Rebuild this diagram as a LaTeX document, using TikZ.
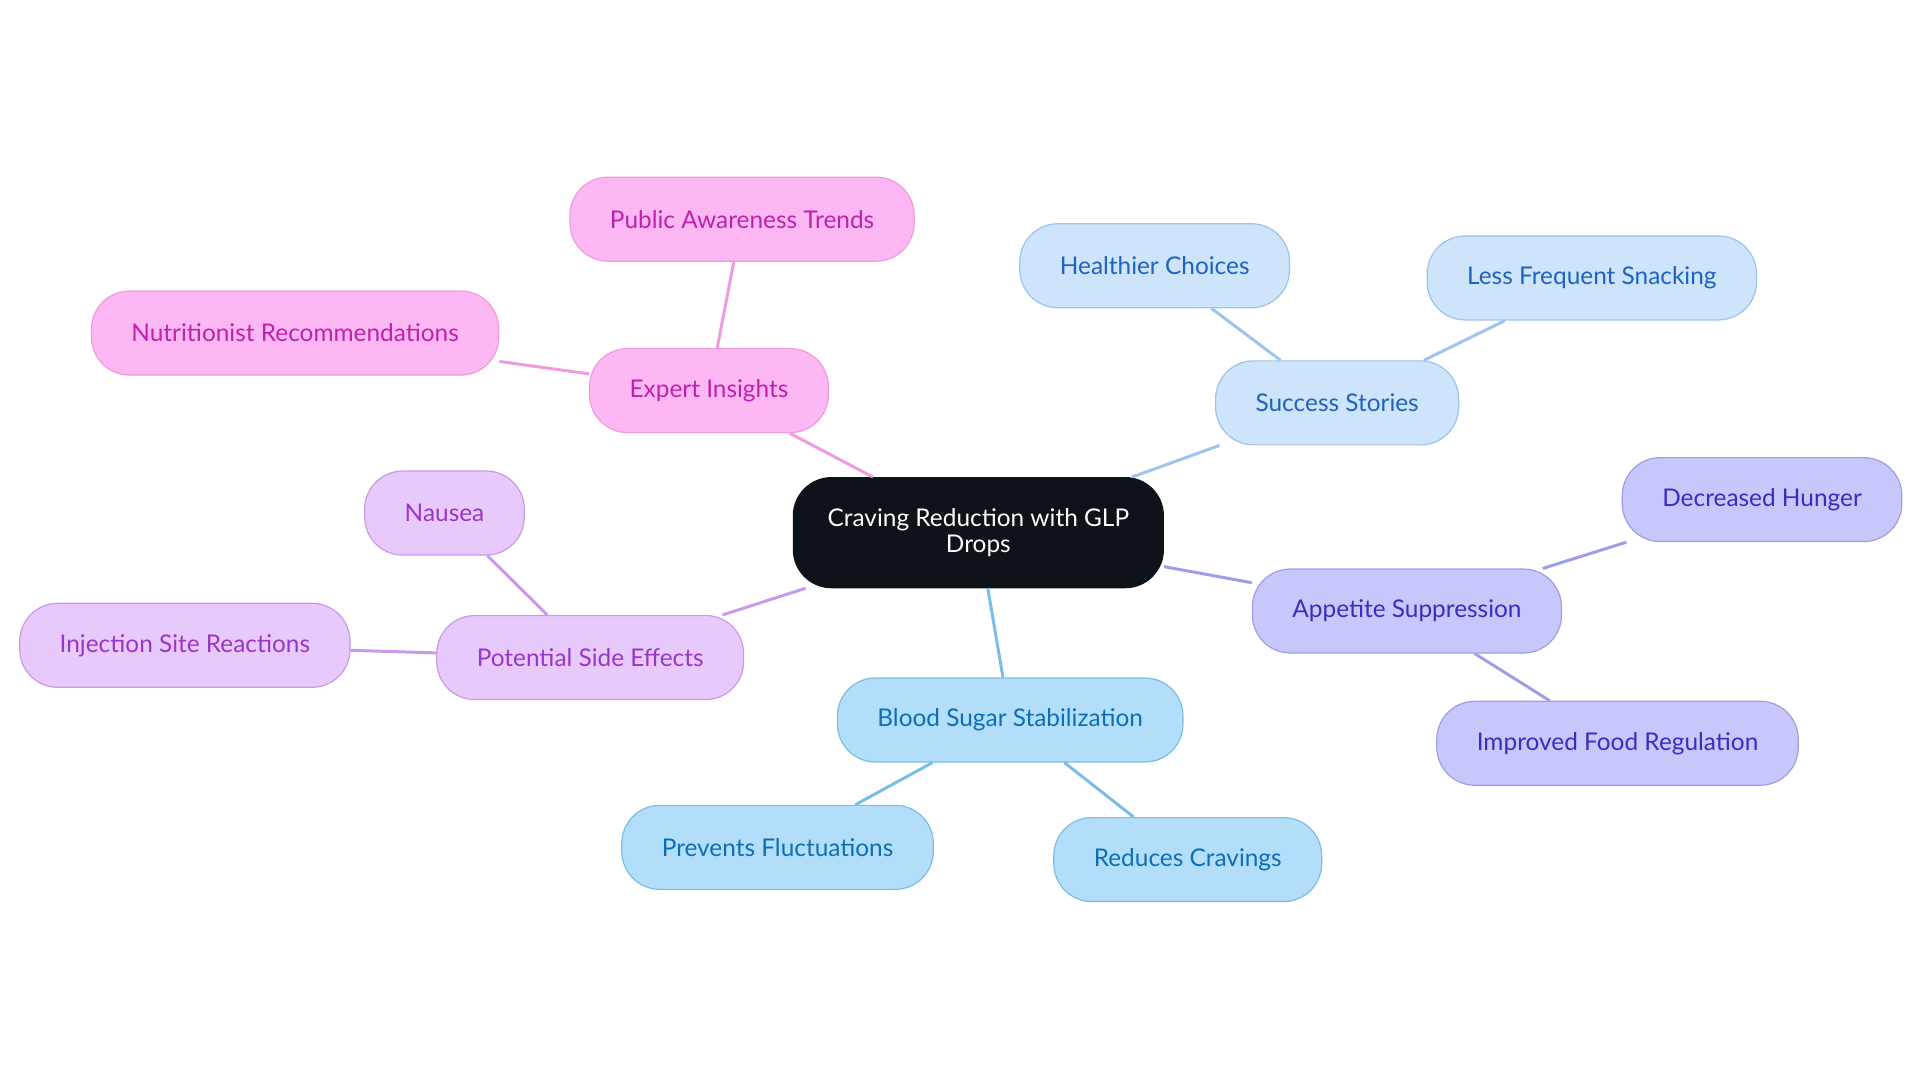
\documentclass[tikz,border=0pt]{standalone}
\usepackage{fontspec}
\setmainfont{Lato}
\usepackage{xcolor}
\usetikzlibrary{positioning}
\definecolor{rootfill}{HTML}{0E1219}
\definecolor{pinkfill}{HTML}{FDB7F3}
\definecolor{pinkline}{HTML}{EE9BDF}
\definecolor{pinktext}{HTML}{C020B0}
\definecolor{bluefill}{HTML}{CDE4FB}
\definecolor{blueline}{HTML}{9EC3EC}
\definecolor{bluetext}{HTML}{1E63C0}
\definecolor{violetfill}{HTML}{C7C7FB}
\definecolor{violetline}{HTML}{9E9EE8}
\definecolor{violettext}{HTML}{3A2CC0}
\definecolor{skyfill}{HTML}{B3DEF9}
\definecolor{skyline}{HTML}{7ABDE8}
\definecolor{skytext}{HTML}{0B6FB8}
\definecolor{lilacfill}{HTML}{E8C9FB}
\definecolor{lilacline}{HTML}{C99AE8}
\definecolor{lilactext}{HTML}{9A35C9}

\tikzset{
	topic/.style={rounded corners=19pt,minimum height=42pt,inner xsep=20pt,line width=0.6pt,font=\fontsize{12.2}{14}\selectfont},
	root/.style={topic,fill=rootfill,draw=rootfill,text=white,minimum height=55pt,minimum width=185pt,inner xsep=16pt,align=center,font=\fontsize{12.2}{13.3}\selectfont},
	pinkbox/.style={topic,fill=pinkfill,draw=pinkline,text=pinktext},
	bluebox/.style={topic,fill=bluefill,draw=blueline,text=bluetext},
	violetbox/.style={topic,fill=violetfill,draw=violetline,text=violettext},
	skybox/.style={topic,fill=skyfill,draw=skyline,text=skytext},
	lilacbox/.style={topic,fill=lilacfill,draw=lilacline,text=lilactext}
}

\begin{document}
\begin{tikzpicture}[x=0.6123pt,y=-0.6123pt,line width=1.5pt]
	\useasboundingbox (0,0) rectangle (1568,884.4);
	\node[root] (craving) at (799,435) {Craving Reduction with GLP\\Drops};
	
	\node[pinkbox] (expert) at (579,319) {Expert Insights};
	\node[pinkbox] (public) at (606,179) {Public Awareness Trends};
	\node[pinkbox] (nutri) at (241,272) {Nutritionist Recommendations};
	
	\node[bluebox] (success) at (1092,329) {Success Stories};
	\node[bluebox] (healthier) at (943,217) {Healthier Choices};
	\node[bluebox] (snacking) at (1300,227) {Less Frequent Snacking};
	
	\node[violetbox] (appetite) at (1149,499) {Appetite Suppression};
	\node[violetbox] (hunger) at (1439,408) {Decreased Hunger};
	\node[violetbox] (foodreg) at (1321,607) {Improved Food Regulation};
	
	\node[skybox] (blood) at (825,588) {Blood Sugar Stabilization};
	\node[skybox] (fluct) at (635,692) {Prevents Fluctuations};
	\node[skybox] (reduces) at (970,702) {Reduces Cravings};
	
	\node[lilacbox] (side) at (482,537) {Potential Side Effects};
	\node[lilacbox] (nausea) at (363,419) {Nausea};
	\node[lilacbox] (inject) at (151,527) {Injection Site Reactions};
	
	\draw	(craving) edge[pinkline] (expert)
			(expert) edge[pinkline] (public)
			(expert) edge[pinkline] (nutri)
			(craving) edge[blueline] (success)
			(success) edge[blueline] (healthier)
			(success) edge[blueline] (snacking)
			(craving) edge[violetline] (appetite)
			(appetite) edge[violetline] (hunger)
			(appetite) edge[violetline] (foodreg)
			(craving) edge[skyline] (blood)
			(blood) edge[skyline] (fluct)
			(blood) edge[skyline] (reduces)
			(craving) edge[lilacline] (side)
			(side) edge[lilacline] (nausea)
			(side) edge[lilacline] (inject);
\end{tikzpicture}
\end{document}
